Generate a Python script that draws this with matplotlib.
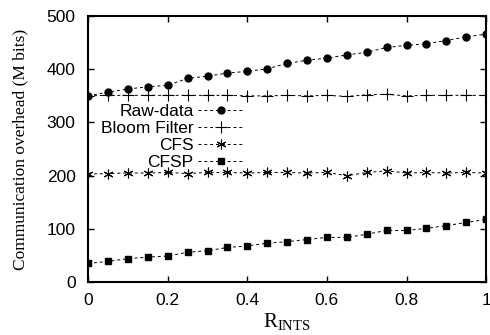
import numpy as np
from matplotlib import pyplot as plt

r_ints = [0, 0.05, 0.1, 0.15, 0.2, 0.25, 0.3, 0.35, 0.4, 0.45, 0.5,
          0.55, 0.6, 0.65, 0.7, 0.75, 0.8, 0.85, 0.9, 0.95, 1.0]
raw_data = [350, 357, 363, 367, 370, 383, 387, 393, 396, 401, 411,
            417, 421, 427, 432, 441, 445, 448, 454, 461, 466]
bloom_filter = [350, 351, 351, 351, 351, 351, 351, 351, 350, 350, 351,
                350, 351, 349, 352, 353, 350, 351, 351, 351, 351]
cfs = [203, 204, 205, 205, 206, 204, 206, 206, 205, 206, 206,
       205, 206, 200, 206, 209, 205, 206, 205, 206, 205]
cfsp = [35, 39, 44, 47, 49, 56, 59, 65, 68, 73, 76,
        80, 84, 84, 90, 97, 97, 101, 106, 112, 118]

x_ticks = [0, 0.2, 0.4, 0.6, 0.8, 1]
x_tick_labels = ["0", "0.2", "0.4", "0.6", "0.8", "1"]
y_ticks = [0, 100, 200, 300, 400, 500]


def main():
    fig = plt.figure(figsize=(4.9, 3.35), dpi=100)
    ax = fig.add_axes([0.18, 0.158, 0.812, 0.794])

    style = dict(color='black', linewidth=0.7, dashes=[3, 3])
    ax.plot(r_ints, raw_data, marker='o', markersize=5, label="Raw-data", **style)
    ax.plot(r_ints, bloom_filter, marker='+', markersize=8, markeredgewidth=0.8,
            label="Bloom Filter", **style)
    ax.plot(r_ints, cfs, marker=(6, 2, 0), markersize=7, markeredgewidth=0.8,
            label="CFS", **style)
    ax.plot(r_ints, cfsp, marker='s', markersize=5, label="CFSP", **style)

    ax.set_xlim(0, 1)
    ax.set_ylim(0, 500)
    ax.set_xticks(x_ticks)
    ax.set_xticklabels(x_tick_labels)
    ax.set_yticks(y_ticks)
    for label in ax.get_xticklabels() + ax.get_yticklabels():
        label.set_family("Liberation Sans")
        label.set_fontsize(12.5)
    ax.tick_params(direction='in', top=True, right=True, length=4, width=1)
    ax.tick_params(axis='x', pad=8)
    ax.tick_params(axis='y', pad=9)
    for spine in ax.spines.values():
        spine.set_linewidth(1.5)

    ax.set_ylabel("Communication overhead (M bits)", family="Liberation Serif", fontsize=12.5,
                  labelpad=13)
    ax.set_xlabel(r"R$_{\mathregular{INTS}}$", family="Liberation Serif", fontsize=15, labelpad=2)

    ax.legend(loc='upper right', bbox_to_anchor=(0.42, 0.715), markerfirst=False,
              frameon=False, handlelength=2.6, handletextpad=0.25, labelspacing=0.1,
              borderpad=0.2, prop={'family': 'Liberation Sans', 'size': 12.5})

    fig.savefig("out.png", dpi=100)


if __name__ == "__main__":
    main()
